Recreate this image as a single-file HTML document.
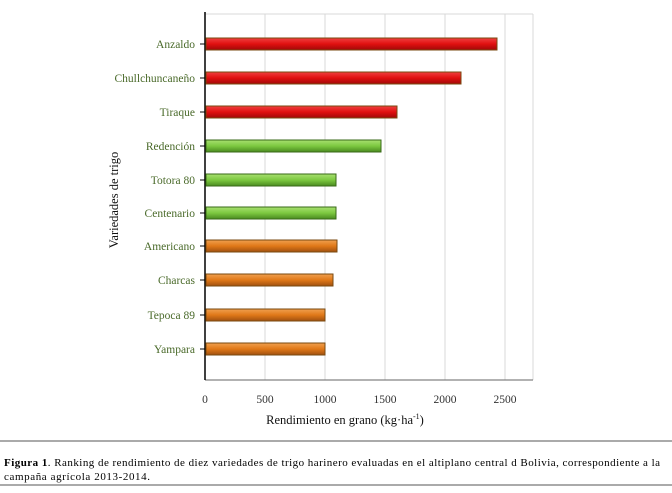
<!DOCTYPE html>
<html><head><meta charset="utf-8"><style>
body{margin:0;background:#fff;width:672px;height:488px;overflow:hidden;font-family:"Liberation Serif",serif;}
</style></head><body>
<svg width="672" height="488" xmlns="http://www.w3.org/2000/svg" font-family="Liberation Serif, serif">
<defs>
<linearGradient id="r" x1="0" y1="0" x2="0" y2="1"><stop offset="0" stop-color="#f04040"/><stop offset="0.5" stop-color="#e01010"/><stop offset="1" stop-color="#a00808"/></linearGradient>
<linearGradient id="g" x1="0" y1="0" x2="0" y2="1"><stop offset="0" stop-color="#a8e070"/><stop offset="0.5" stop-color="#7cc840"/><stop offset="1" stop-color="#4a8a20"/></linearGradient>
<linearGradient id="o" x1="0" y1="0" x2="0" y2="1"><stop offset="0" stop-color="#f0a050"/><stop offset="0.5" stop-color="#e07818"/><stop offset="1" stop-color="#a05010"/></linearGradient>
</defs>
<g stroke="#d8d8d8" stroke-width="1">
<line x1="265" y1="14" x2="265" y2="380"/><line x1="325" y1="14" x2="325" y2="380"/><line x1="385" y1="14" x2="385" y2="380"/><line x1="445" y1="14" x2="445" y2="380"/><line x1="505" y1="14" x2="505" y2="380"/>
<line x1="533" y1="14" x2="533" y2="380"/><line x1="205" y1="14" x2="533" y2="14"/>
</g>
<line x1="205" y1="380" x2="533" y2="380" stroke="#666" stroke-width="1"/>
<line x1="205" y1="12" x2="205" y2="380" stroke="#000" stroke-width="1.5"/>
<g stroke="#7a4a10" stroke-width="1">
<rect x="206" y="38" width="291" height="12" fill="url(#r)"/>
<rect x="206" y="72" width="255" height="12" fill="url(#r)"/>
<rect x="206" y="106" width="191" height="12" fill="url(#r)"/>
<rect x="206" y="140" width="175" height="12" fill="url(#g)" stroke="#3a6a18"/>
<rect x="206" y="174" width="130" height="12" fill="url(#g)" stroke="#3a6a18"/>
<rect x="206" y="207" width="130" height="12" fill="url(#g)" stroke="#3a6a18"/>
<rect x="206" y="240" width="131" height="12" fill="url(#o)"/>
<rect x="206" y="274" width="127" height="12" fill="url(#o)"/>
<rect x="206" y="309" width="119" height="12" fill="url(#o)"/>
<rect x="206" y="343" width="119" height="12" fill="url(#o)"/>
</g>
<g font-size="11.5" fill="#4a6a2a" text-anchor="end">
<text x="195" y="48">Anzaldo</text>
<text x="195" y="82">Chullchuncaneño</text>
<text x="195" y="116">Tiraque</text>
<text x="195" y="150">Redención</text>
<text x="195" y="184">Totora 80</text>
<text x="195" y="217">Centenario</text>
<text x="195" y="250">Americano</text>
<text x="195" y="284">Charcas</text>
<text x="195" y="319">Tepoca 89</text>
<text x="195" y="353">Yampara</text>
</g>
<g stroke="#000"><line x1="200" y1="44" x2="205" y2="44"/><line x1="200" y1="78" x2="205" y2="78"/><line x1="200" y1="112" x2="205" y2="112"/><line x1="200" y1="146" x2="205" y2="146"/><line x1="200" y1="180" x2="205" y2="180"/><line x1="200" y1="213" x2="205" y2="213"/><line x1="200" y1="246" x2="205" y2="246"/><line x1="200" y1="280" x2="205" y2="280"/><line x1="200" y1="315" x2="205" y2="315"/><line x1="200" y1="349" x2="205" y2="349"/></g>
<g font-size="11.5" fill="#333" text-anchor="middle">
<text x="205" y="403">0</text><text x="265" y="403">500</text><text x="325" y="403">1000</text><text x="385" y="403">1500</text><text x="445" y="403">2000</text><text x="505" y="403">2500</text>
<text x="345" y="424" font-size="12.5" fill="#111">Rendimiento en grano (kg·ha<tspan font-size="8" dy="-5">-1</tspan><tspan dy="5">)</tspan></text>
</g>
<text transform="translate(118,200) rotate(-90)" font-size="12.5" fill="#111" text-anchor="middle">Variedades de trigo</text>
<line x1="0" y1="441" x2="672" y2="441" stroke="#555" stroke-width="1"/>
<text x="4" y="466" font-size="11" fill="#000" textLength="656" lengthAdjust="spacing"><tspan font-weight="bold">Figura 1</tspan>. Ranking de rendimiento de diez variedades de trigo harinero evaluadas en el altiplano central d Bolivia, correspondiente a  la</text>
<text x="4" y="480" font-size="11" fill="#000" textLength="146" lengthAdjust="spacing">campaña agrícola  2013-2014.</text>
<line x1="0" y1="485" x2="672" y2="485" stroke="#555" stroke-width="1"/>
</svg>
</body></html>
